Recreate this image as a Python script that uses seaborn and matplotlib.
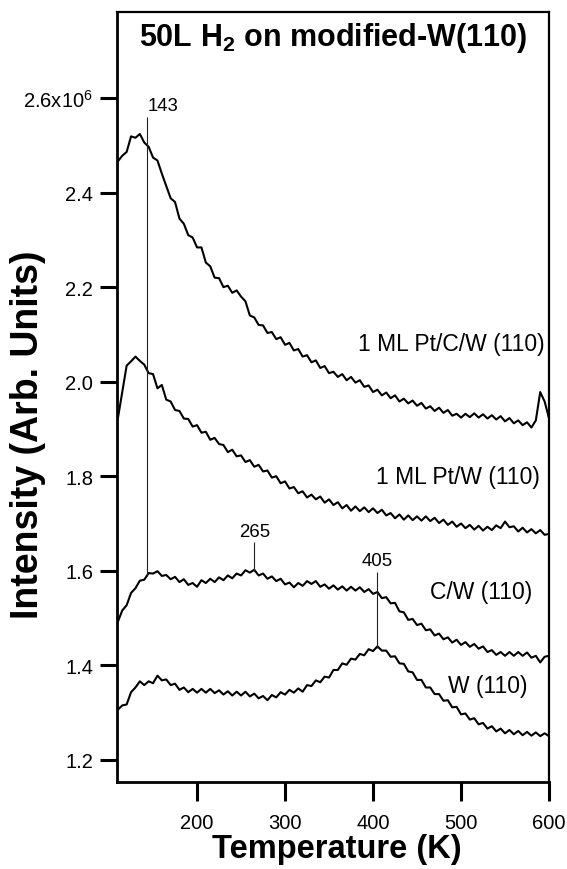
import numpy as np
import pandas as pd
import matplotlib
matplotlib.use("Agg")
import matplotlib.pyplot as plt
import seaborn as sns

temperature_K = [110, 115, 120, 125, 130, 135, 140, 145, 150, 155, 160, 165, 170, 175, 180, 185, 190, 195,
                 200, 205, 210, 215, 220, 225, 230, 235, 240, 245, 250, 255, 260, 265, 270, 275, 280, 285,
                 290, 295, 300, 305, 310, 315, 320, 325, 330, 335, 340, 345, 350, 355, 360, 365, 370, 375,
                 380, 385, 390, 395, 400, 405, 410, 415, 420, 425, 430, 435, 440, 445, 450, 455, 460, 465,
                 470, 475, 480, 485, 490, 495, 500, 505, 510, 515, 520, 525, 530, 535, 540, 545, 550, 555,
                 560, 565, 570, 575, 580, 585, 590, 595, 600]

pt_c_w = [2.466, 2.478, 2.486, 2.519, 2.516, 2.524, 2.506, 2.497, 2.474, 2.468, 2.440, 2.414, 2.388, 2.380,
          2.345, 2.334, 2.310, 2.305, 2.284, 2.284, 2.252, 2.244, 2.220, 2.219, 2.200, 2.203, 2.188, 2.193,
          2.180, 2.170, 2.140, 2.136, 2.120, 2.119, 2.103, 2.105, 2.090, 2.094, 2.078, 2.082, 2.066, 2.069,
          2.053, 2.056, 2.041, 2.045, 2.029, 2.033, 2.018, 2.021, 2.010, 2.016, 2.003, 2.010, 1.998, 2.003,
          1.989, 1.992, 1.978, 1.983, 1.971, 1.977, 1.965, 1.971, 1.958, 1.964, 1.954, 1.960, 1.949, 1.955,
          1.943, 1.948, 1.938, 1.945, 1.934, 1.940, 1.928, 1.932, 1.924, 1.932, 1.925, 1.933, 1.924, 1.931,
          1.922, 1.929, 1.920, 1.927, 1.916, 1.923, 1.912, 1.918, 1.908, 1.914, 1.903, 1.918, 1.978, 1.958,
          1.922]

pt_w = [1.922, 1.978, 2.034, 2.043, 2.053, 2.044, 2.036, 2.018, 2.016, 1.986, 1.993, 1.962, 1.958, 1.940,
        1.938, 1.922, 1.921, 1.905, 1.908, 1.892, 1.894, 1.877, 1.881, 1.868, 1.866, 1.851, 1.856, 1.842,
        1.844, 1.830, 1.834, 1.820, 1.824, 1.810, 1.812, 1.797, 1.800, 1.785, 1.789, 1.774, 1.777, 1.764,
        1.768, 1.755, 1.761, 1.751, 1.757, 1.744, 1.751, 1.739, 1.745, 1.732, 1.739, 1.727, 1.736, 1.726,
        1.734, 1.724, 1.732, 1.722, 1.729, 1.717, 1.722, 1.711, 1.719, 1.708, 1.717, 1.707, 1.715, 1.706,
        1.715, 1.705, 1.712, 1.701, 1.708, 1.697, 1.704, 1.693, 1.700, 1.690, 1.697, 1.687, 1.695, 1.685,
        1.693, 1.686, 1.696, 1.690, 1.704, 1.692, 1.694, 1.683, 1.691, 1.681, 1.688, 1.679, 1.686, 1.676,
        1.678]

c_w = [1.492, 1.516, 1.527, 1.553, 1.563, 1.579, 1.581, 1.595, 1.594, 1.599, 1.589, 1.591, 1.582, 1.587,
       1.576, 1.582, 1.570, 1.574, 1.566, 1.580, 1.574, 1.583, 1.576, 1.586, 1.580, 1.590, 1.584, 1.594,
       1.590, 1.601, 1.596, 1.602, 1.590, 1.594, 1.583, 1.588, 1.578, 1.583, 1.571, 1.575, 1.565, 1.574,
       1.568, 1.578, 1.572, 1.578, 1.566, 1.571, 1.562, 1.569, 1.560, 1.567, 1.558, 1.566, 1.558, 1.565,
       1.555, 1.561, 1.551, 1.555, 1.542, 1.544, 1.531, 1.532, 1.514, 1.512, 1.496, 1.498, 1.485, 1.488,
       1.474, 1.476, 1.463, 1.467, 1.455, 1.459, 1.448, 1.454, 1.443, 1.449, 1.439, 1.445, 1.435, 1.440,
       1.428, 1.432, 1.422, 1.428, 1.420, 1.428, 1.420, 1.428, 1.420, 1.427, 1.416, 1.420, 1.406, 1.418,
       1.420]

w = [1.306, 1.315, 1.317, 1.343, 1.353, 1.366, 1.358, 1.366, 1.362, 1.378, 1.368, 1.370, 1.358, 1.361,
     1.348, 1.353, 1.343, 1.350, 1.342, 1.350, 1.342, 1.350, 1.341, 1.347, 1.338, 1.345, 1.336, 1.344,
     1.336, 1.344, 1.334, 1.340, 1.330, 1.335, 1.326, 1.337, 1.332, 1.343, 1.338, 1.348, 1.342, 1.351,
     1.344, 1.358, 1.356, 1.368, 1.364, 1.376, 1.374, 1.390, 1.390, 1.404, 1.401, 1.414, 1.412, 1.424,
     1.421, 1.434, 1.430, 1.440, 1.431, 1.431, 1.418, 1.419, 1.404, 1.403, 1.387, 1.385, 1.369, 1.369,
     1.353, 1.353, 1.339, 1.339, 1.325, 1.326, 1.311, 1.312, 1.296, 1.298, 1.285, 1.288, 1.275, 1.278,
     1.266, 1.271, 1.260, 1.266, 1.256, 1.263, 1.254, 1.261, 1.252, 1.259, 1.251, 1.258, 1.250, 1.256,
     1.250]

series_names = ["1 ML Pt/C/W (110)", "1 ML Pt/W (110)", "C/W (110)", "W (110)"]
series_values = [pt_c_w, pt_w, c_w, w]

peak_T = [143, 265, 405]
peak_labels = ["143", "265", "405"]
peak_line_top = [2.560, 1.660, 1.598]
peak_line_bottom = [1.589, 1.600, 1.437]

x_ticks = [200, 300, 400, 500, 600]
y_ticks = [1.2, 1.4, 1.6, 1.8, 2.0, 2.2, 2.4, 2.6]
y_tick_labels = ["1.2", "1.4", "1.6", "1.8", "2.0", "2.2", "2.4", "2.6x10$^{\\mathregular{6}}$"]

title = "50L H$_{\\mathbf{2}}$ on modified-W(110)"
x_label = "Temperature (K)"
y_label = "Intensity (Arb. Units)"

sns.set_style("ticks")
plt.rcParams["font.family"] = ["Liberation Sans", "DejaVu Sans"]
plt.rcParams["mathtext.fontset"] = "custom"
plt.rcParams["mathtext.rm"] = "Liberation Sans"
plt.rcParams["mathtext.bf"] = "Liberation Sans:bold"
for key in ["text.color", "axes.labelcolor", "xtick.color", "ytick.color", "axes.edgecolor",
            "xtick.labelcolor", "ytick.labelcolor"]:
    plt.rcParams[key] = "black"

frames = []
for name, vals in zip(series_names, series_values):
    frames.append(pd.DataFrame({"T": temperature_K, "I": vals, "series": name}))
df = pd.concat(frames, ignore_index=True)

fig = plt.figure(figsize=(5.67, 8.7), dpi=100)
ax = fig.add_axes([0.2063, 0.1, 0.762, 0.885])

sns.lineplot(data=df, x="T", y="I", units="series", estimator=None, color="black",
             linewidth=1.5, ax=ax, legend=False)

ax.vlines(peak_T, peak_line_bottom, peak_line_top, color="#222222", linewidth=0.8)

ax.text(peak_T[0] + 0.5, peak_line_top[0] + 0.006, peak_labels[0], fontsize=13.4, ha="left", va="bottom")
for t, lab, top in zip(peak_T[1:], peak_labels[1:], peak_line_top[1:]):
    ax.text(t, top + 0.006, lab, fontsize=13.4, ha="center", va="bottom")

label_pos = [(595, 2.080), (590, 1.799), (581, 1.556), (576, 1.357)]
for name, (tx, ty) in zip(series_names, label_pos):
    ax.text(tx, ty, name, fontsize=16.5, ha="right", va="center")

ax.set_xlim(109, 600)
ax.set_ylim(1.153, 2.782)
ax.set_xticks(x_ticks)
ax.set_xticklabels([str(t) for t in x_ticks])
ax.set_yticks(y_ticks)
ax.set_yticklabels(y_tick_labels)
ax.tick_params(axis="x", direction="out", length=14, width=2.2, labelsize=14.5, pad=8)
ax.tick_params(axis="y", direction="out", length=12, width=2.2, labelsize=14.5, pad=5)
for side in ["left", "bottom"]:
    ax.spines[side].set_linewidth(2.0)
for side in ["top", "right"]:
    ax.spines[side].set_visible(True)
    ax.spines[side].set_linewidth(1.6)

ax.set_xlabel("")
ax.set_ylabel("")
ax.text(0.5, 0.9675, title, transform=ax.transAxes, fontsize=22, fontweight="bold",
        ha="center", va="center")
fig.text(0.594, 0.023, x_label, fontsize=23.5, fontweight="bold", ha="center", va="center")
fig.text(0.05, 0.5, y_label, fontsize=27, fontweight="bold", ha="center", va="center",
         rotation=90)

fig.savefig("out.png", dpi=100)
